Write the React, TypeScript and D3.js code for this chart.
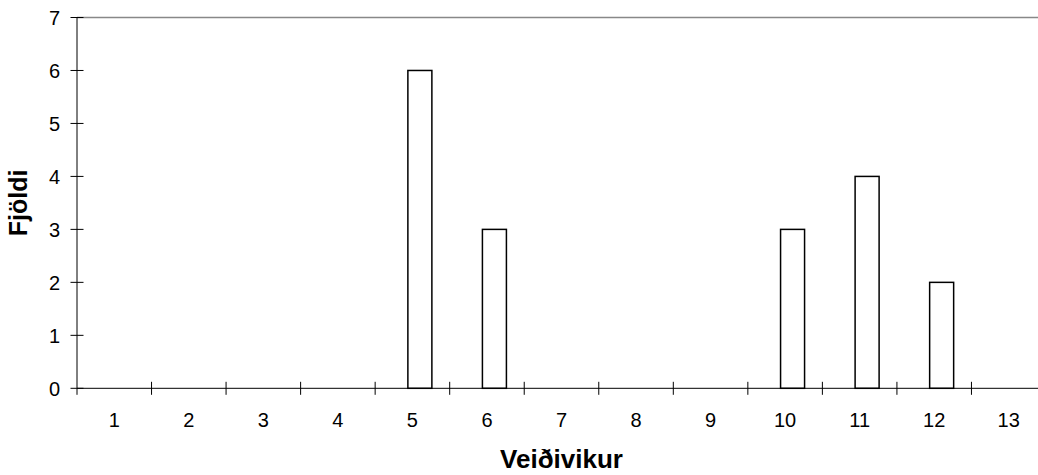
import React from "react";
import * as d3 from "d3";

const categories = ["1", "2", "3", "4", "5", "6", "7", "8", "9", "10", "11", "12", "13"];
const values = [0, 0, 0, 0, 6, 3, 0, 0, 0, 3, 4, 2, 0];
const yTicks = [0, 1, 2, 3, 4, 5, 6, 7];
const xTitle = "Veiðivikur";
const yTitle = "Fjöldi";

const W = 1038;
const H = 475;
const M = { left: 77, top: 17.5, right: 1046, bottom: 388.3 };
const FONT = "'Liberation Sans', Arial, sans-serif";

export default function App() {
  const x = d3.scaleBand<string>().domain(categories).range([M.left, M.right]).padding(0);
  const y = d3.scaleLinear().domain([0, 7]).range([M.bottom, M.top]);
  const bw = x.bandwidth();
  const barW = bw * 0.322;
  const barOffset = bw * 0.1;

  return (
    <svg width={W} height={H} style={{ position: "absolute", left: 0, top: 0, background: "#fff" }}>
      <rect x={0} y={0} width={W} height={H} fill="#fff" />
      <line x1={M.left} x2={W} y1={y(7)} y2={y(7)} stroke="#888" strokeWidth={1.5} />
      {values.map((v, i) =>
        v > 0 ? (
          <rect
            key={i}
            x={x(categories[i])! + bw / 2 + barOffset - barW / 2}
            y={y(v)}
            width={barW}
            height={y(0) - y(v)}
            fill="#fff"
            stroke="#000"
            strokeWidth={1.5}
          />
        ) : null
      )}
      <line x1={M.left} x2={M.left} y1={y(7)} y2={y(0)} stroke="#000" strokeWidth={1} />
      {yTicks.map((t) => (
        <g key={t}>
          <line x1={M.left - 6.5} x2={M.left + 6.5} y1={y(t)} y2={y(t)} stroke="#000" strokeWidth={1} />
          <text x={60} y={y(t)} dy="0.36em" textAnchor="end" fontFamily={FONT} fontSize={20} fill="#000">
            {t}
          </text>
        </g>
      ))}
      <line x1={M.left} x2={W} y1={y(0)} y2={y(0)} stroke="#000" strokeWidth={1} />
      {categories.map((c, i) => (
        <g key={c}>
          {i > 0 && (
            <line x1={x(c)!} x2={x(c)!} y1={y(0) - 6.5} y2={y(0) + 6.5} stroke="#000" strokeWidth={1} />
          )}
          <text x={x(c)! + bw / 2} y={427} textAnchor="middle" fontFamily={FONT} fontSize={20} fill="#000">
            {c}
          </text>
        </g>
      ))}
      <line x1={M.left} x2={M.left} y1={y(0)} y2={y(0) + 6.5} stroke="#000" strokeWidth={1} />
      <text x={(M.left + M.right) / 2} y={468} textAnchor="middle" fontFamily={FONT} fontSize={26} fontWeight="bold" fill="#000">
        {xTitle}
      </text>
      <text
        transform={`translate(27, ${(M.top + M.bottom) / 2}) rotate(-90)`}
        textAnchor="middle"
        fontFamily={FONT}
        fontSize={25}
        fontWeight="bold"
        fill="#000"
      >
        {yTitle}
      </text>
    </svg>
  );
}
